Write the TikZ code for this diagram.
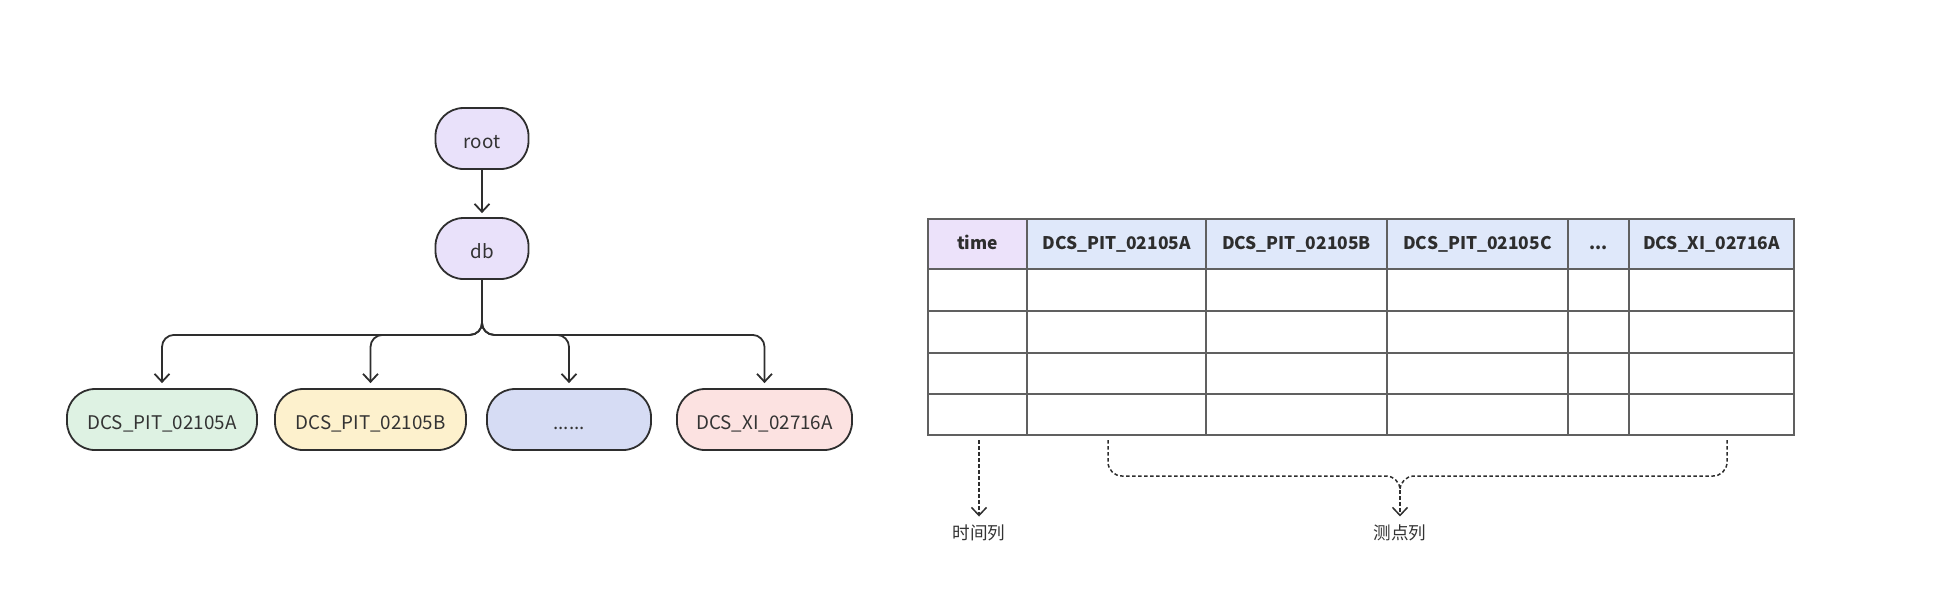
\documentclass[tikz,border=0pt]{standalone}
\usepackage{fontspec}
\setmainfont{Noto Sans CJK SC}
\usetikzlibrary{arrows.meta,calc}
\definecolor{linec}{HTML}{2E2E2E}
\definecolor{textc}{HTML}{333333}
\definecolor{rootfill}{HTML}{E9E1FA}
\definecolor{greenfill}{HTML}{DEF2E3}
\definecolor{yellowfill}{HTML}{FDF1CD}
\definecolor{bluefill}{HTML}{D6DCF4}
\definecolor{pinkfill}{HTML}{FCE2E1}
\definecolor{timefill}{HTML}{ECE2FA}
\definecolor{headfill}{HTML}{DFE8FA}
\definecolor{tablec}{HTML}{606060}
\tikzset{
  pill/.style={draw=linec, line width=0.9pt, rounded corners=14pt, minimum height=30.5pt, inner sep=0pt, text=textc, text height=0.95em, text depth=0em, font=\fontsize{9.4}{11}\selectfont},
  arr/.style={-{Straight Barb[length=4pt,width=7.5pt]}, line width=0.9pt, draw=linec},
  hcell/.style={draw=tablec, line width=0.7pt, minimum height=25pt, inner sep=0pt, text=linec, text height=0.72em, text depth=0.2em, font=\bfseries\fontsize{8.7}{10}\selectfont},
  tline/.style={draw=tablec, line width=0.7pt},
  dashpath/.style={draw=linec, line width=0.75pt, dash pattern=on 1.8pt off 1.2pt},
  darr/.style={dashpath, -{Straight Barb[length=4pt,width=7.5pt]}},
  lbl/.style={text=textc, inner sep=2pt, font=\fontsize{8.8}{11}\selectfont}
}
\begin{document}
\begin{tikzpicture}[x=0.5pt,y=-0.5pt]
\useasboundingbox (0,0) rectangle (1942,602);
% tree
\node[pill, fill=rootfill, minimum width=46.5pt] (root) at (482,138.5) {root};
\node[pill, fill=rootfill, minimum width=46.5pt] (db) at (482,248.5) {db};
\node[pill, fill=greenfill, minimum width=95pt] (n1) at (162,419.5) {DCS\_PIT\_02105A};
\node[pill, fill=yellowfill, minimum width=95.5pt] (n2) at (370.5,419.5) {DCS\_PIT\_02105B};
\node[pill, fill=bluefill, minimum width=82pt] (n3) at (569,419.5) {......};
\node[pill, fill=pinkfill, minimum width=87.5pt] (n4) at (764.5,419.5) {DCS\_XI\_02716A};
\draw[arr, shorten >=2pt] (root) -- (db);
\foreach \n in {n1,n2,n3,n4}{
  \draw[arr, rounded corners=6pt, shorten >=2.5pt] (db.south) -- ++(0,55) -| (\n.north);
}
% table header
\node[hcell, fill=timefill, minimum width=49.5pt] (hT) at (977.5,244) {time};
\node[hcell, fill=headfill, minimum width=89.5pt] (hA) at (1116.5,244) {DCS\_PIT\_02105A};
\node[hcell, fill=headfill, minimum width=90.5pt] (hB) at (1296.5,244) {DCS\_PIT\_02105B};
\node[hcell, fill=headfill, minimum width=90.5pt] (hC) at (1477.5,244) {DCS\_PIT\_02105C};
\node[hcell, fill=headfill, minimum width=30.5pt] (hD) at (1598.5,244) {...};
\node[hcell, fill=headfill, minimum width=82.5pt] (hX) at (1711.5,244) {DCS\_XI\_02716A};
% table body
\draw[tline] (928,269) rectangle (1794,435);
\foreach \yy in {311,353,394}{ \draw[tline] (928,\yy) -- (1794,\yy); }
\foreach \xx in {1027,1206,1387,1568,1629}{ \draw[tline] (\xx,269) -- (\xx,435); }
% labels
\node[lbl] (l1) at (979,533) {时间列};
\node[lbl] (l2) at (1400,533) {测点列};
\coordinate (t1) at (979,440);
\coordinate (bl) at (1108,440);
\coordinate (br) at (1727,440);
\coordinate (bj) at (1400,476);
\coordinate (bs) at (1400,490);
\draw[darr, shorten >=2pt] (t1) -- (l1.north);
\draw[dashpath, rounded corners=7pt] (bl) |- (bj) -- (bs);
\draw[dashpath, rounded corners=7pt] (br) |- (bj) -- (bs);
\draw[darr, shorten >=2pt] (bs) -- (l2.north);
\end{tikzpicture}
\end{document}
